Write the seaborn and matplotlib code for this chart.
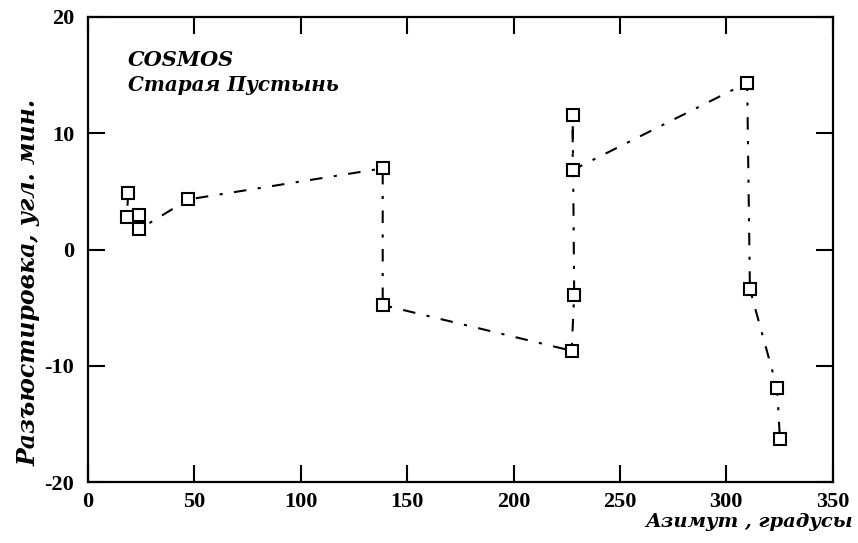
import matplotlib
matplotlib.use("Agg")
import matplotlib.pyplot as plt
import seaborn as sns
import pandas as pd

# Data (in drawing order)
azimuth = [18.9, 18.2, 24.1, 24.1, 47.1, 138.5, 138.5, 227.3, 228.5, 227.8, 227.8, 309.8, 311.1, 323.9, 325.2]
misalign = [4.83, 2.8, 2.96, 1.74, 4.3, 6.97, -4.77, -8.7, -3.9, 11.56, 6.83, 14.33, -3.42, -11.92, -16.3]
x_ticks = [0, 50, 100, 150, 200, 250, 300, 350]
y_ticks = [-20, -10, 0, 10, 20]
title_lines = ["COSMOS", "Старая Пустынь"]
x_label = "Азимут , градусы"
y_label = "Разъюстировка, угл. мин."

df = pd.DataFrame({"az": azimuth, "d": misalign})

sns.set_style("white")
plt.rcParams["font.family"] = ["Liberation Serif", "DejaVu Serif"]
plt.rcParams["text.color"] = "black"

fig = plt.figure(figsize=(8.58, 5.43), dpi=100)
ax = fig.add_axes([0.1026, 0.1118, 0.9705 - 0.1026, 0.9692 - 0.1118])

sns.lineplot(data=df, x="az", y="d", sort=False, estimator=None, ax=ax,
             color="black", linewidth=1.5, linestyle=(0, (6.0, 5.5, 1.5, 5.5)),
             marker="s", markersize=8, markerfacecolor="white",
             markeredgecolor="black", markeredgewidth=1.5)

ax.set_xlim(0, 350)
ax.set_ylim(-20, 20)
ax.set_xticks(x_ticks)
ax.set_yticks(y_ticks)
ax.set_xticklabels([str(t) for t in x_ticks], fontsize=16, fontweight="bold")
ax.set_yticklabels([str(t) for t in y_ticks], fontsize=16, fontweight="bold")
ax.tick_params(direction="in", length=12, width=1.5, top=True, right=True,
               bottom=True, left=True, color="black", labelcolor="black")
ax.tick_params(axis="x", pad=7)
ax.tick_params(axis="y", pad=10)
for s in ax.spines.values():
    s.set_visible(True)
    s.set_color("black")
    s.set_linewidth(1.6)

ax.set_xlabel("")
ax.set_ylabel("")
lab_font = ["DejaVu Serif"]
fig.text(0.994, 0.039, x_label, ha="right", va="center", fontsize=14,
         fontweight="bold", fontstyle="italic", family=lab_font, color="black")
fig.text(0.033, 0.48, y_label, ha="center", va="center", rotation=90,
         fontsize=17, fontweight="bold", fontstyle="italic", family=lab_font,
         color="black")

ax.text(0.054, 0.906, title_lines[0], transform=ax.transAxes, ha="left",
        va="center", fontsize=15, fontweight="bold", fontstyle="italic",
        family=lab_font, color="black")
ax.text(0.054, 0.853, title_lines[1], transform=ax.transAxes, ha="left",
        va="center", fontsize=14.3, fontweight="bold", fontstyle="italic",
        family=lab_font, color="black")

fig.savefig("out.png", dpi=100)
